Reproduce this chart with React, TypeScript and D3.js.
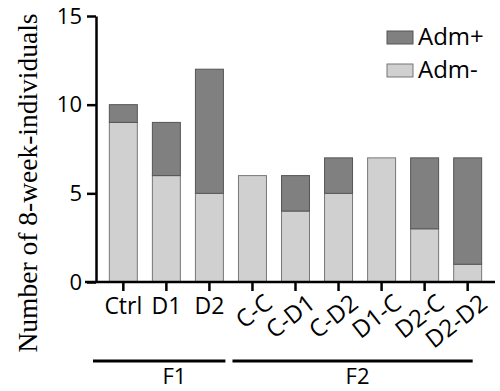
import React, { useEffect, useRef } from 'react';
import * as d3 from 'd3';

const groups = ['Ctrl', 'D1', 'D2', 'C-C', 'C-D1', 'C-D2', 'D1-C', 'D2-C', 'D2-D2'];
const admMinus = [9, 6, 5, 6, 4, 5, 7, 3, 1];
const admPlus = [1, 3, 7, 0, 2, 2, 0, 4, 6];
const yTicks = [0, 5, 10, 15];
const generations = [
  { name: 'F1', from: 'Ctrl', to: 'D2' },
  { name: 'F2', from: 'C-C', to: 'D2-D2' },
];

const LIGHT = '#d0d0d0';
const DARK = '#808080';
const SANS = '"Open Sans", sans-serif';

const App: React.FC = () => {
  const ref = useRef<SVGSVGElement | null>(null);

  useEffect(() => {
    const svg = d3.select(ref.current);
    svg.selectAll('*').remove();

    const x = d3.scaleBand<string>()
      .domain(groups)
      .range([96, 495])
      .paddingInner(0.35)
      .paddingOuter(0.31);

    const y = d3.scaleLinear().domain([0, 15]).range([282, 16]);

    const rows = groups.map((g, i) => ({ g, minus: admMinus[i], plus: admPlus[i] }));

    // bars: Adm- at the bottom, Adm+ stacked on top
    svg.append('g')
      .selectAll('rect')
      .data(rows)
      .join('rect')
      .attr('x', d => x(d.g)!)
      .attr('width', x.bandwidth())
      .attr('y', d => y(d.minus))
      .attr('height', d => y(0) - y(d.minus))
      .attr('fill', LIGHT)
      .attr('stroke', '#777')
      .attr('stroke-width', 1);

    svg.append('g')
      .selectAll('rect')
      .data(rows.filter(d => d.plus > 0))
      .join('rect')
      .attr('x', d => x(d.g)!)
      .attr('width', x.bandwidth())
      .attr('y', d => y(d.minus + d.plus))
      .attr('height', d => y(d.minus) - y(d.minus + d.plus))
      .attr('fill', DARK)
      .attr('stroke', '#555')
      .attr('stroke-width', 1);

    // y axis
    const yAxis = svg.append('g')
      .attr('transform', 'translate(96,0)')
      .call(d3.axisLeft(y).tickValues(yTicks).tickSize(9).tickPadding(5).tickSizeOuter(0));
    yAxis.select('.domain').attr('stroke', '#000').attr('stroke-width', 2.5);
    yAxis.selectAll('.tick line').attr('stroke', '#000').attr('stroke-width', 2.5);
    yAxis.selectAll('.tick text')
      .style('font-family', SANS)
      .style('font-size', '22px')
      .attr('fill', '#000');

    // x axis line extends a little past the y axis
    svg.append('line')
      .attr('x1', 85).attr('x2', 495)
      .attr('y1', y(0)).attr('y2', y(0))
      .attr('stroke', '#000').attr('stroke-width', 2.5);

    const center = (g: string) => x(g)! + x.bandwidth() / 2;

    svg.append('g')
      .selectAll('line')
      .data(groups)
      .join('line')
      .attr('x1', d => center(d)).attr('x2', d => center(d))
      .attr('y1', y(0)).attr('y2', y(0) + 9)
      .attr('stroke', '#000').attr('stroke-width', 2.5);

    // category labels: F1 flat, F2 rotated
    const f1 = groups.slice(0, 3);
    svg.append('g')
      .selectAll('text')
      .data(groups)
      .join('text')
      .attr('font-family', SANS)
      .attr('font-size', 23)
      .attr('fill', '#000')
      .text(d => d)
      .each(function (d) {
        const t = d3.select(this);
        if (f1.includes(d)) {
          t.attr('x', center(d)).attr('y', 314).attr('text-anchor', 'middle');
        } else {
          t.attr('text-anchor', 'end')
            .attr('font-size', 24)
            .attr('transform', `translate(${center(d) + 11},${293}) rotate(-38)`)
            .attr('dy', '0.7em');
        }
      });

    // generation brackets
    const gen = svg.append('g');
    generations.forEach((gr, i) => {
      const x1 = i === 0 ? 93 : x(gr.from)! - 6;
      const x2 = i === 0 ? x(gr.to)! + x.bandwidth() + 2 : x(gr.to)! + 19;
      gen.append('line')
        .attr('x1', x1).attr('x2', x2)
        .attr('y1', 361).attr('y2', 361)
        .attr('stroke', '#000').attr('stroke-width', 3);
      const cx = i === 0 ? (center(gr.from) + center(gr.to)) / 2 + 8 : (x1 + x2) / 2 + 5;
      gen.append('text')
        .attr('x', cx).attr('y', 384)
        .attr('text-anchor', 'middle')
        .attr('font-family', SANS)
        .attr('font-size', 22)
        .text(gr.name);
    });

    // y title
    svg.append('text')
      .attr('transform', 'translate(37,183) rotate(-90)')
      .attr('text-anchor', 'middle')
      .attr('font-family', '"Liberation Serif", serif')
      .attr('font-size', 27.5)
      .text('Number of 8-week-individuals');

    // legend
    const legend = [
      { label: 'Adm+', color: DARK, stroke: '#555' },
      { label: 'Adm-', color: LIGHT, stroke: '#777' },
    ];
    const lg = svg.append('g');
    legend.forEach((l, i) => {
      lg.append('rect')
        .attr('x', 387).attr('y', 31 + i * 33)
        .attr('width', 26).attr('height', 13)
        .attr('fill', l.color).attr('stroke', l.stroke);
      lg.append('text')
        .attr('x', 418).attr('y', 45 + i * 33)
        .attr('font-family', SANS)
        .attr('font-size', 24)
        .text(l.label);
    });
  }, []);

  return (
    <svg ref={ref} width={500} height={391}
      style={{ position: 'absolute', left: 0, top: 0, background: '#fff' }} />
  );
};

export default App;
